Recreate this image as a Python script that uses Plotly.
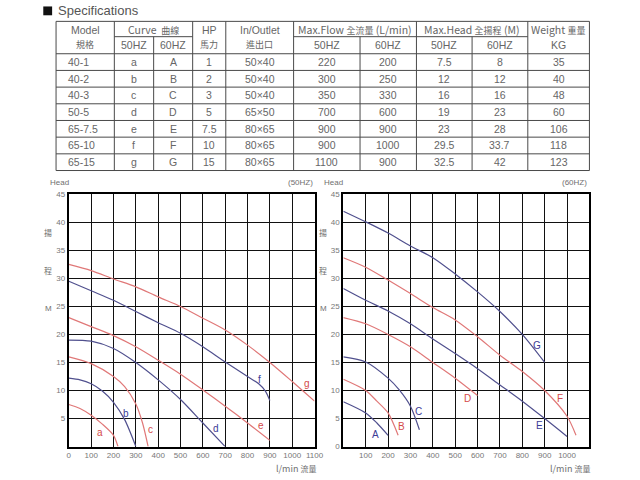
import plotly.graph_objects as go

# ---------------- table data ----------------
models = ["40-1", "40-2", "40-3", "50-5", "65-7.5", "65-10", "65-15"]
curve50 = ["a", "b", "c", "d", "e", "f", "g"]
curve60 = ["A", "B", "C", "D", "E", "F", "G"]
hp = ["1", "2", "3", "5", "7.5", "10", "15"]
inout = ["50×40", "50×40", "50×40", "65×50", "80×65", "80×65", "80×65"]
flow50 = ["220", "300", "350", "700", "900", "900", "1100"]
flow60 = ["200", "250", "330", "600", "900", "1000", "900"]
head50 = ["7.5", "12", "16", "19", "23", "29.5", "32.5"]
head60 = ["8", "12", "16", "23", "28", "33.7", "42"]
weight = ["35", "40", "48", "60", "106", "118", "123"]

# ---------------- 50HZ curves (flow l/min, head m) ----------------
a_q = [0, 50, 100, 150, 200, 220]
a_h = [7.5, 6.8, 5.6, 4.0, 2.0, 0]
b_q = [0, 50, 100, 150, 200, 250, 300]
b_h = [12.2, 11.9, 11.2, 9.9, 7.9, 4.8, 0]
c_q = [0, 100, 200, 250, 300, 330, 355]
c_h = [16, 14.8, 12.5, 10.7, 7.6, 4.2, 0]
d_q = [0, 100, 200, 300, 400, 500, 600, 700]
d_h = [19, 18.8, 17.5, 15, 11.9, 8.4, 4.2, 0]
e_q = [0, 100, 200, 300, 400, 500, 600, 700, 800, 900]
e_h = [23, 21.4, 19.8, 17.8, 15.4, 12.9, 10.1, 7.2, 4.2, 1.1]
f_q = [0, 100, 200, 300, 400, 500, 600, 700, 800, 850, 880, 900]
f_h = [29.5, 27.8, 26.1, 24.1, 22.1, 20.2, 17.8, 15.1, 12.5, 11.2, 9.9, 8.2]
g_q = [0, 100, 200, 300, 400, 500, 600, 700, 800, 900, 1000, 1100]
g_h = [32.5, 31.4, 29.9, 28.5, 26.7, 25, 22.9, 20.8, 18.1, 15, 11.6, 8.1]

# ---------------- 60HZ curves ----------------
A_q = [0, 100, 150, 200]
A_h = [8, 6.0, 4.2, 2.0]
B_q = [0, 100, 150, 200, 245]
B_h = [12, 10, 8.1, 6, 2]
C_q = [0, 100, 200, 250, 300, 340]
C_h = [16, 15.1, 12.2, 10.1, 7.2, 3.0]
D_q = [0, 100, 200, 300, 400, 500, 600]
D_h = [23, 21.9, 20, 17.8, 15, 12.2, 9.1]
E_q = [0, 100, 200, 300, 400, 500, 600, 700, 800, 900, 1000]
E_h = [28.2, 26.1, 24.2, 21.9, 19.2, 16.6, 13.9, 11, 8.1, 5, 1.8]
F_q = [0, 100, 200, 300, 400, 500, 600, 700, 800, 900, 1000, 1040]
F_h = [33.7, 32, 29.7, 27.3, 24.8, 22.6, 19.6, 16.3, 13.4, 10, 5.4, 2]
G_q = [0, 100, 200, 300, 400, 500, 600, 700, 800, 900]
G_h = [42, 40.1, 38.1, 35.8, 33.7, 30.8, 27.6, 24.1, 20, 15]

RED = "#e07878"
BLUE = "#50508e"
RED_T = "#d44a4a"
BLUE_T = "#3c3c96"
TXT = "#666666"
CJK = "Noto Sans CJK TC, Liberation Sans, Arial, sans-serif"
SANS = "Liberation Sans, Arial, Noto Sans CJK TC, sans-serif"

W, H = 640, 480


def px(x):
    return x / W


def py(y):
    return 1 - y / H


fig = go.Figure()

curves50 = [("a", a_q, a_h, RED, 141, 2.5), ("b", b_q, b_h, BLUE, 254, 5.9),
            ("c", c_q, c_h, RED, 364, 3.0), ("d", d_q, d_h, BLUE, 657, 3.2),
            ("e", e_q, e_h, RED, 859, 3.7), ("f", f_q, f_h, BLUE, 852, 11.9),
            ("g", g_q, g_h, RED, 1065, 11.2)]
curves60 = [("A", A_q, A_h, BLUE, 144, 2.2), ("B", B_q, B_h, RED, 261, 3.6),
            ("C", C_q, C_h, BLUE, 338, 6.3), ("D", D_q, D_h, RED, 557, 8.5),
            ("E", E_q, E_h, BLUE, 877, 3.7), ("F", F_q, F_h, RED, 968, 8.5),
            ("G", G_q, G_h, BLUE, 864, 18)]

annotations = []
for xa, ya, group in (("x", "y", curves50), ("x2", "y2", curves60)):
    for name, q, h, col, lx, ly in group:
        fig.add_trace(go.Scatter(x=q, y=h, mode="lines", xaxis=xa, yaxis=ya,
                                 line=dict(color=col, width=1.2, shape="spline", smoothing=0.8),
                                 showlegend=False, hoverinfo="skip"))
        annotations.append(dict(x=lx, y=ly, xref=xa, yref=ya, text=name, showarrow=False,
                                font=dict(size=10, color=RED_T if col == RED else BLUE_T,
                                          family=SANS)))

axis_common = dict(showgrid=True, gridcolor="#111111", gridwidth=1, zeroline=False,
                   showline=True, mirror=True, linecolor="#000000", linewidth=2,
                   ticks="", tickfont=dict(size=8, color="#777777", family=SANS),
                   fixedrange=True)

x_ticks_left = list(range(0, 1101, 100))
x_ticks_right = list(range(100, 1001, 100))
y_ticks_left = list(range(5, 46, 5))
y_ticks_right = list(range(0, 46, 5))

fig.update_layout(
    width=W, height=H, margin=dict(l=0, r=0, t=0, b=0),
    paper_bgcolor="white", plot_bgcolor="white",
    xaxis=dict(domain=[px(68), px(318)], range=[0, 1100], anchor="y",
               tickvals=x_ticks_left, **axis_common),
    yaxis=dict(domain=[py(451), py(194)], range=[0, 45], anchor="x",
               tickvals=y_ticks_left, **axis_common),
    xaxis2=dict(domain=[px(347.3), px(597.7)], range=[0, 1100], anchor="y2",
                tickvals=x_ticks_right, **axis_common),
    yaxis2=dict(domain=[py(451), py(194)], range=[0, 45], anchor="x2",
                tickvals=y_ticks_right, **axis_common),
    showlegend=False,
)

# ---------------- table drawing ----------------
shapes = []
LC = "#4a4a4a"
top, mid, hb = 17.7, 33.3, 50.7
row_h = 17.0
bottom = hb + row_h * len(models)
cols = [55, 114.3, 154.3, 194, 227.7, 296.7, 364.3, 421.7, 478.3, 535, 597.7]


def hline(x0, x1, y):
    shapes.append(dict(type="line", xref="paper", yref="paper", x0=px(x0), x1=px(x1),
                       y0=py(y), y1=py(y), line=dict(color=LC, width=1)))


def vline(x, y0, y1):
    shapes.append(dict(type="line", xref="paper", yref="paper", x0=px(x), x1=px(x),
                       y0=py(y0), y1=py(y1), line=dict(color=LC, width=1)))


hline(cols[0], cols[-1], top)
hline(cols[0], cols[-1], hb)
for i in range(1, len(models) + 1):
    hline(cols[0], cols[-1], hb + row_h * i)
hline(cols[1], cols[3], mid)
hline(cols[5], cols[9], mid)
for i, c in enumerate(cols):
    if i in (2, 6, 8):
        vline(c, mid, bottom)
    else:
        vline(c, top, bottom)

# title square marker
shapes.append(dict(type="rect", xref="paper", yref="paper", x0=px(42), x1=px(51),
                   y0=py(11.5), y1=py(2.5), fillcolor="#111111", line=dict(width=0)))


def txt(x, y, s, size=10.5, color=TXT, anchor="center", family=SANS):
    annotations.append(dict(x=px(x), y=py(y), xref="paper", yref="paper", text=s,
                            showarrow=False, xanchor=anchor, yanchor="middle",
                            font=dict(size=size, color=color, family=family)))


def cx(i):
    return (cols[i] + cols[i + 1]) / 2


# title
txt(55, 7, "Specifications", size=13, color="#555555", anchor="left")

# headers
txt(cx(0), 26, "Model")
txt(cx(0), 41, "規格", size=9, family=CJK)
txt((cols[1] + cols[3]) / 2, 25.5, "Curve  <span style='font-size:9px'>曲線</span>", family=CJK)
txt(cx(1), 42, "50HZ")
txt(cx(2), 42, "60HZ")
txt(cx(3), 26, "HP")
txt(cx(3), 41, "馬力", size=9, family=CJK)
txt(cx(4), 26, "In/Outlet")
txt(cx(4), 41, "進出口", size=9, family=CJK)
txt((cols[5] + cols[7]) / 2, 25.5, "Max.Flow <span style='font-size:9px'>全流量</span> (L/min)", family=CJK)
txt(cx(5), 42, "50HZ")
txt(cx(6), 42, "60HZ")
txt((cols[7] + cols[9]) / 2, 25.5, "Max.Head <span style='font-size:9px'>全揚程</span> (M)", family=CJK)
txt(cx(7), 42, "50HZ")
txt(cx(8), 42, "60HZ")
txt(cx(9), 25.5, "Weight <span style='font-size:9px'>重量</span>", family=CJK)
txt(cx(9), 42, "KG")

columns_data = [curve50, curve60, hp, inout, flow50, flow60, head50, head60, weight]
for r in range(len(models)):
    yc = hb + row_h * r + row_h / 2
    txt(cols[0] + 10, yc, models[r], anchor="left")
    for j, col in enumerate(columns_data):
        txt(cx(j + 1), yc, col[r])

# ---------------- chart decorations ----------------
for (hx, hzx, hz, cjx, lx) in [(58, 318, "(50HZ)", 47, 299), (337, 597, "(60HZ)", 327, 578)]:
    txt(hx, 182, "Head", size=8, color="#707070")
    txt(hzx, 182, hz, size=8, color="#707070", anchor="right")
    txt(cjx, 233, "揚", size=8, color="#707070", family=CJK)
    txt(cjx, 272, "程", size=8, color="#707070", family=CJK)
    txt(cjx, 310, "M", size=8, color="#707070")
    txt(lx, 473, "l/min <span style='font-size:8px'>流量</span>", size=9, color="#707070", family=CJK)

fig.update_layout(shapes=shapes, annotations=annotations)
fig.write_html("out.html")
